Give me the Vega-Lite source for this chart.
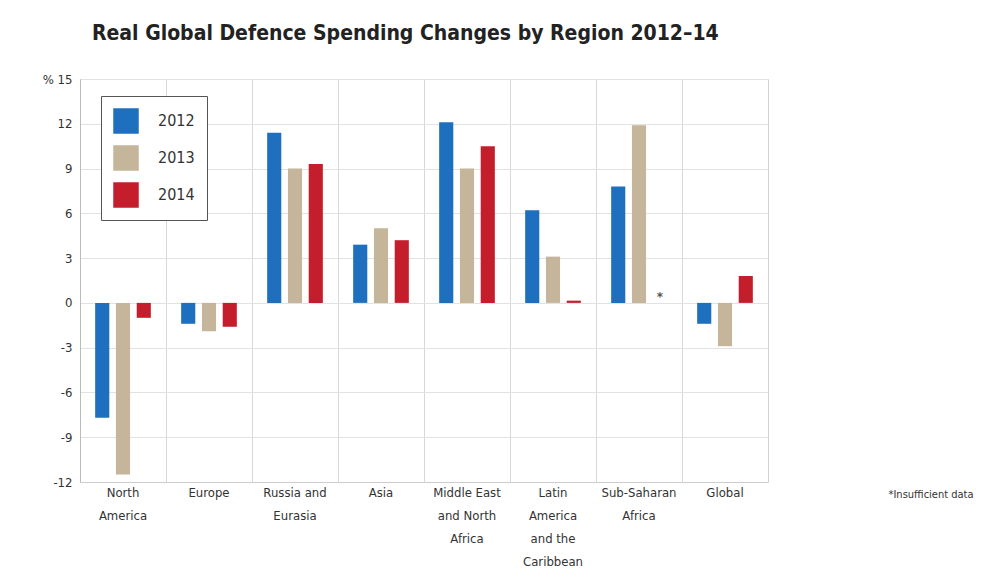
{
  "$schema": "https://vega.github.io/schema/vega-lite/v6.json",
  "autosize": {"type": "none"},
  "width": 688,
  "height": 403,
  "padding": {"left": 80, "top": 79, "right": 231, "bottom": 100},
  "background": "white",
  "title": {
    "text": "Real Global Defence Spending Changes by Region 2012–14",
    "anchor": "start",
    "frame": "group",
    "dx": 12,
    "offset": 29,
    "font": "DejaVu Sans Condensed",
    "fontSize": 21,
    "fontWeight": "bold",
    "color": "#222"
  },
  "data": {
    "values": [
      {"region": "North America", "year": "2012", "value": -7.7},
      {"region": "North America", "year": "2013", "value": -11.5},
      {"region": "North America", "year": "2014", "value": -1.0},
      {"region": "Europe", "year": "2012", "value": -1.4},
      {"region": "Europe", "year": "2013", "value": -1.9},
      {"region": "Europe", "year": "2014", "value": -1.6},
      {"region": "Russia and Eurasia", "year": "2012", "value": 11.4},
      {"region": "Russia and Eurasia", "year": "2013", "value": 9.0},
      {"region": "Russia and Eurasia", "year": "2014", "value": 9.3},
      {"region": "Asia", "year": "2012", "value": 3.9},
      {"region": "Asia", "year": "2013", "value": 5.0},
      {"region": "Asia", "year": "2014", "value": 4.2},
      {"region": "Middle East and North Africa", "year": "2012", "value": 12.1},
      {"region": "Middle East and North Africa", "year": "2013", "value": 9.0},
      {"region": "Middle East and North Africa", "year": "2014", "value": 10.5},
      {"region": "Latin America and the Caribbean", "year": "2012", "value": 6.2},
      {"region": "Latin America and the Caribbean", "year": "2013", "value": 3.1},
      {"region": "Latin America and the Caribbean", "year": "2014", "value": 0.15},
      {"region": "Sub-Saharan Africa", "year": "2012", "value": 7.8},
      {"region": "Sub-Saharan Africa", "year": "2013", "value": 11.9},
      {"region": "Sub-Saharan Africa", "year": "2014", "value": null, "note": "*"},
      {"region": "Global", "year": "2012", "value": -1.4},
      {"region": "Global", "year": "2013", "value": -2.9},
      {"region": "Global", "year": "2014", "value": 1.8}
    ]
  },
  "encoding": {
    "x": {
      "field": "region",
      "type": "nominal",
      "sort": null,
      "scale": {"paddingInner": 0, "paddingOuter": 0},
      "axis": {
        "title": "*Insufficient data",
        "titleX": 808,
        "titleY": 12,
        "titleAlign": "left",
        "titleBaseline": "middle",
        "titleFont": "DejaVu Sans Condensed",
        "titleFontSize": 11,
        "titleFontWeight": "normal",
        "titleColor": "#333",
        "labelAngle": 0,
        "labelFont": "DejaVu Sans Condensed",
        "labelFontSize": 13,
        "labelColor": "#333",
        "labelLineHeight": 23,
        "labelPadding": 4,
        "labelBaseline": "top",
        "labelExpr": "datum.value == 'North America' ? ['North','America'] : datum.value == 'Russia and Eurasia' ? ['Russia and','Eurasia'] : datum.value == 'Middle East and North Africa' ? ['Middle East','and North','Africa'] : datum.value == 'Latin America and the Caribbean' ? ['Latin','America','and the','Caribbean'] : datum.value == 'Sub-Saharan Africa' ? ['Sub-Saharan','Africa'] : datum.label",
        "ticks": false,
        "grid": true,
        "bandPosition": 0,
        "gridColor": "#d8d8d8",
        "domain": true,
        "domainColor": "#cccccc"
      }
    },
    "xOffset": {
      "field": "year",
      "type": "nominal",
      "scale": {"paddingInner": 0.32, "paddingOuter": 0.73}
    }
  },
  "layer": [
    {
      "mark": {"type": "bar"},
      "encoding": {
        "y": {
          "field": "value",
          "type": "quantitative",
          "scale": {"domain": [-12, 15], "nice": false, "zero": true},
          "axis": {
            "title": null,
            "values": [-12, -9, -6, -3, 0, 3, 6, 9, 12, 15],
            "labelExpr": "datum.value == 15 ? '% 15' : '' + datum.value",
            "labelFont": "DejaVu Sans Condensed",
            "labelFontSize": 13,
            "labelColor": "#333",
            "labelPadding": 8,
            "ticks": false,
            "grid": true,
            "gridColor": "#e2e2e2",
            "domain": true,
            "domainColor": "#bbbbbb"
          }
        },
        "color": {
          "field": "year",
          "type": "nominal",
          "scale": {"domain": ["2012", "2013", "2014"], "range": ["#1f6fbf", "#c5b59b", "#c41e2d"]},
          "legend": {
            "title": null,
            "orient": "none",
            "legendX": 21,
            "legendY": 17,
            "direction": "vertical",
            "symbolType": "square",
            "symbolSize": 650,
            "symbolStrokeWidth": 0,
            "symbolOpacity": 1,
            "labelFont": "DejaVu Sans Condensed",
            "labelFontSize": 16,
            "labelColor": "#333",
            "labelOffset": 19,
            "rowPadding": 11,
            "padding": 12,
            "strokeColor": "#555",
            "fillColor": "white"
          }
        }
      }
    },
    {
      "mark": {"type": "rule", "color": "#aaaaaa", "strokeWidth": 1},
      "encoding": {"y": {"datum": 0}, "xOffset": {"value": 0}}
    },
    {
      "transform": [{"filter": "datum.note != null"}],
      "mark": {"type": "text", "font": "DejaVu Sans", "fontSize": 12, "fontWeight": "bold", "color": "#555", "baseline": "middle", "dy": -6},
      "encoding": {
        "y": {"datum": 0},
        "text": {"field": "note"}
      }
    }
  ],
  "config": {
    "view": {"stroke": "#d0d0d0"}
  }
}
